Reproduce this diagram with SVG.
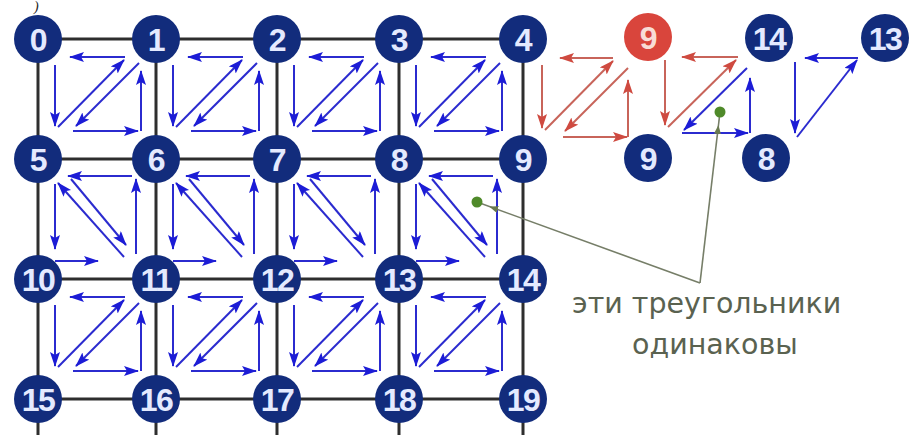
<svg xmlns="http://www.w3.org/2000/svg" xmlns:xlink="http://www.w3.org/1999/xlink" width="909" height="435" viewBox="0 0 909 435">
<style>
.grid{stroke:#2e2e2e;stroke-width:3;fill:none}
.b{stroke:#2b2bcf;stroke-width:2;fill:none;marker-end:url(#ab)}
.r{stroke:#c8645a;stroke-width:2;fill:none;marker-end:url(#ar)}
.g{stroke:#767e68;stroke-width:1.6;fill:none;marker-end:url(#ag)}
.node circle{fill:#122c7c}
.node text{font-family:"Liberation Sans",Arial,sans-serif;font-weight:bold;font-size:32px;fill:#e4eaff;text-anchor:middle;letter-spacing:-1.5px}
.node.red circle{fill:#d9453c}
.node.red text{fill:#f8dcd6}
.lbl{font-family:"DejaVu Sans",sans-serif;font-size:28.5px;fill:#5a6250}
</style>
<defs>
<marker id="ab" markerUnits="userSpaceOnUse" markerWidth="16" markerHeight="11" refX="14" refY="5" orient="auto"><path d="M0,0 L15,5 L0,10 L3,5 Z" fill="#1c1cd6"/></marker>
<marker id="ar" markerUnits="userSpaceOnUse" markerWidth="16" markerHeight="11" refX="14" refY="5" orient="auto"><path d="M0,0 L15,5 L0,10 L3,5 Z" fill="#cf4a40"/></marker>
<marker id="ag" markerUnits="userSpaceOnUse" markerWidth="10" markerHeight="8" refX="22" refY="3.5" orient="auto"><path d="M0,0 L9,3.5 L0,7 Z" fill="#6a7a50"/></marker>
<g id="zc">
<line class="b" x1="87" y1="18" x2="32" y2="18"/>
<line class="b" x1="17" y1="26" x2="17" y2="87"/>
<line class="b" x1="20" y1="88" x2="86" y2="21"/>
<line class="b" x1="101" y1="24" x2="38" y2="87"/>
<line class="b" x1="35" y1="92" x2="100" y2="92"/>
<line class="b" x1="103" y1="92" x2="103" y2="32"/>
</g>
<g id="nc">
<line class="b" x1="94" y1="17" x2="30" y2="17"/>
<line class="b" x1="98" y1="95" x2="98" y2="20"/>
<line class="b" x1="33" y1="20" x2="88" y2="86"/>
<line class="b" x1="17" y1="25" x2="17" y2="90"/>
<line class="b" x1="17" y1="102" x2="60" y2="102"/>
<line class="b" x1="86" y1="98" x2="20" y2="24"/>
</g>
</defs>
<rect width="909" height="435" fill="#ffffff"/>
<text x="34" y="11" font-family="Liberation Serif,serif" font-style="italic" font-size="14" fill="#222">)</text>
<g id="connectors">
<g id="gridlines" class="grid">
<line x1="38" y1="39" x2="523" y2="39"/>
<line x1="38" y1="159" x2="523" y2="159"/>
<line x1="38" y1="279" x2="523" y2="279"/>
<line x1="38" y1="399" x2="523" y2="399"/>
<line x1="38" y1="39" x2="38" y2="435"/>
<line x1="156" y1="39" x2="156" y2="435"/>
<line x1="277" y1="39" x2="277" y2="435"/>
<line x1="399" y1="39" x2="399" y2="435"/>
<line x1="523" y1="39" x2="523" y2="435"/>
</g>
<g id="cells">
<use href="#zc" x="38" y="39"/>
<use href="#zc" x="156" y="39"/>
<use href="#zc" x="277" y="39"/>
<use href="#zc" x="399" y="39"/>
<use href="#nc" x="38" y="159"/>
<use href="#nc" x="156" y="159"/>
<use href="#nc" x="277" y="159"/>
<use href="#nc" x="399" y="159"/>
<use href="#zc" x="38" y="279"/>
<use href="#zc" x="156" y="279"/>
<use href="#zc" x="277" y="279"/>
<use href="#zc" x="399" y="279"/>
</g>
<g id="red-cell">
<line class="r" x1="613" y1="58" x2="560" y2="58"/>
<line class="r" x1="542" y1="65" x2="542" y2="128"/>
<line class="r" x1="545" y1="130" x2="613" y2="61"/>
<line class="r" x1="628" y1="68" x2="565" y2="131"/>
<line class="r" x1="563" y1="137" x2="627" y2="137"/>
<line class="r" x1="628" y1="137" x2="628" y2="80"/>
</g>
<g id="mixed-cell">
<line class="r" x1="738" y1="57" x2="682" y2="57"/>
<line class="r" x1="665" y1="60" x2="665" y2="125"/>
<line class="r" x1="668" y1="127" x2="736" y2="60"/>
<line class="b" x1="747" y1="68" x2="684" y2="130"/>
<line class="b" x1="682" y1="133" x2="748" y2="133"/>
<line class="b" x1="750" y1="133" x2="750" y2="78"/>
</g>
<g id="single-triangle">
<line class="b" x1="858" y1="58" x2="805" y2="58"/>
<line class="b" x1="795" y1="62" x2="795" y2="133"/>
<line class="b" x1="797" y1="137" x2="857" y2="60"/>
</g>
<g id="pointers">
<line class="g" x1="700" y1="283" x2="477" y2="202"/>
<line class="g" x1="700" y1="283" x2="720" y2="112"/>
<circle cx="477" cy="202" r="5.5" fill="#4f8a2a"/>
<circle cx="720" cy="112" r="5.5" fill="#4f8a2a"/>
</g>
</g>
<g id="n0" class="node"><circle cx="38" cy="39" r="24"/><text x="38" y="51">0</text></g>
<g id="n1" class="node"><circle cx="156" cy="39" r="24"/><text x="156" y="51">1</text></g>
<g id="n2" class="node"><circle cx="277" cy="39" r="24"/><text x="277" y="51">2</text></g>
<g id="n3" class="node"><circle cx="399" cy="39" r="24"/><text x="399" y="51">3</text></g>
<g id="n4" class="node"><circle cx="523" cy="39" r="24"/><text x="523" y="51">4</text></g>
<g id="n5" class="node"><circle cx="38" cy="159" r="24"/><text x="38" y="171">5</text></g>
<g id="n6" class="node"><circle cx="156" cy="159" r="24"/><text x="156" y="171">6</text></g>
<g id="n7" class="node"><circle cx="277" cy="159" r="24"/><text x="277" y="171">7</text></g>
<g id="n8" class="node"><circle cx="399" cy="159" r="24"/><text x="399" y="171">8</text></g>
<g id="n9" class="node"><circle cx="523" cy="159" r="24"/><text x="523" y="171">9</text></g>
<g id="n10" class="node"><circle cx="38" cy="279" r="24"/><text x="38" y="291">10</text></g>
<g id="n11" class="node"><circle cx="156" cy="279" r="24"/><text x="156" y="291">11</text></g>
<g id="n12" class="node"><circle cx="277" cy="279" r="24"/><text x="277" y="291">12</text></g>
<g id="n13" class="node"><circle cx="399" cy="279" r="24"/><text x="399" y="291">13</text></g>
<g id="n14" class="node"><circle cx="523" cy="279" r="24"/><text x="523" y="291">14</text></g>
<g id="n15" class="node"><circle cx="38" cy="399" r="24"/><text x="38" y="411">15</text></g>
<g id="n16" class="node"><circle cx="156" cy="399" r="24"/><text x="156" y="411">16</text></g>
<g id="n17" class="node"><circle cx="277" cy="399" r="24"/><text x="277" y="411">17</text></g>
<g id="n18" class="node"><circle cx="399" cy="399" r="24"/><text x="399" y="411">18</text></g>
<g id="n19" class="node"><circle cx="523" cy="399" r="24"/><text x="523" y="411">19</text></g>
<g id="r9" class="node red"><circle cx="648" cy="37" r="24"/><text x="648" y="49">9</text></g>
<g id="c14" class="node"><circle cx="769" cy="38" r="24"/><text x="769" y="50">14</text></g>
<g id="c13" class="node"><circle cx="885" cy="38" r="24"/><text x="885" y="50">13</text></g>
<g id="c9" class="node"><circle cx="648" cy="158" r="24"/><text x="648" y="170">9</text></g>
<g id="c8" class="node"><circle cx="766" cy="158" r="24"/><text x="766" y="170">8</text></g>
<g id="label">
<text class="lbl" x="572" y="313">эти треугольники</text>
<text class="lbl" x="632" y="354">одинаковы</text>
</g>
</svg>
